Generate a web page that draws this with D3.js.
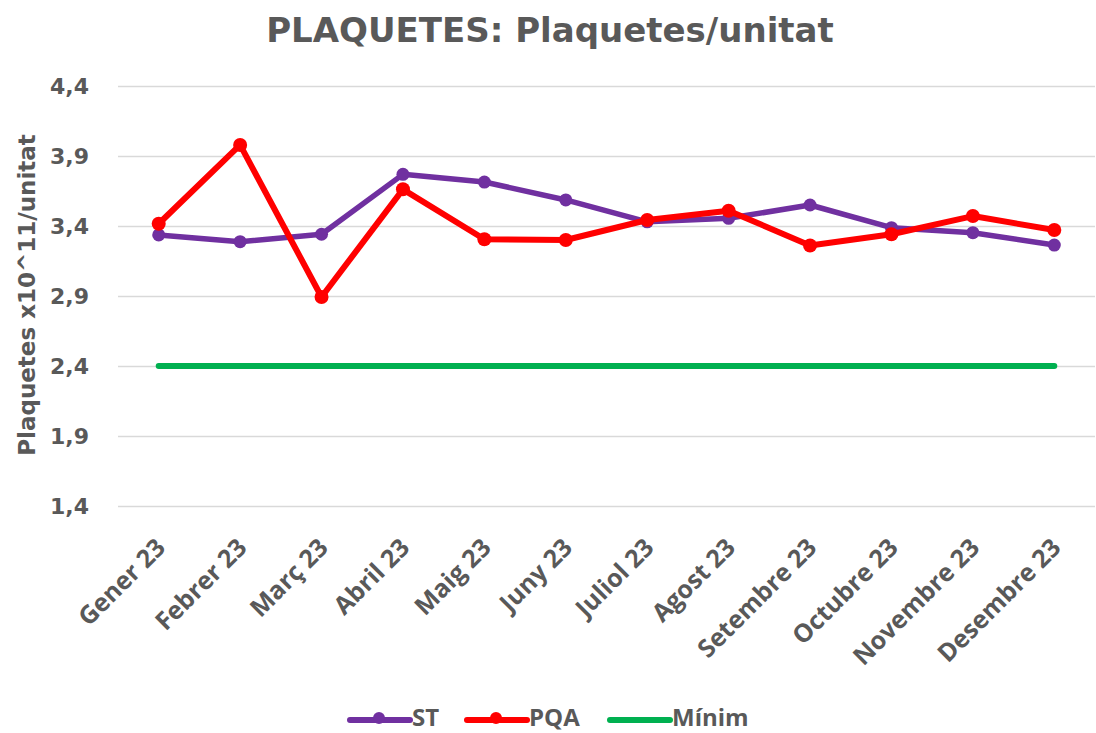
<!DOCTYPE html>
<html>
<head>
<meta charset="utf-8">
<script src="https://cdn.jsdelivr.net/npm/d3@7"></script>
<style>
  html, body { margin: 0; padding: 0; background: #ffffff; }
  svg { display: block; }
</style>
</head>
<body>
<svg id="chart" width="1096" height="733"></svg>
<script>
const months = ["Gener 23","Febrer 23","Març 23","Abril 23","Maig 23","Juny 23","Juliol 23","Agost 23","Setembre 23","Octubre 23","Novembre 23","Desembre 23"];
const stValues  = [3.336, 3.288, 3.341, 3.769, 3.714, 3.586, 3.43, 3.455, 3.55, 3.388, 3.352, 3.264];
const pqaValues = [3.416, 3.979, 2.893, 3.662, 3.305, 3.30, 3.443, 3.509, 3.261, 3.341, 3.471, 3.371];
const minimValues = [2.4, 2.4, 2.4, 2.4, 2.4, 2.4, 2.4, 2.4, 2.4, 2.4, 2.4, 2.4];
const yTicks = [1.4, 1.9, 2.4, 2.9, 3.4, 3.9, 4.4];
const seriesNames = ["ST", "PQA", "Mínim"];
const titleText = "PLAQUETES: Plaquetes/unitat";
const yTitleText = "Plaquetes x10^11/unitat";

const colors = { ST: "#7030A0", PQA: "#FF0000", "Mínim": "#00B050" };
const textColor = "#595959";
const verdana = "'DejaVu Sans', Verdana, sans-serif";
const calibri = "'Open Sans', 'Noto Sans', sans-serif";

const svg = d3.select("#chart");

const x = d3.scaleBand().domain(months).range([118, 1095]).padding(0);
const cx = d => x(d) + x.bandwidth() / 2;
const y = d3.scaleLinear().domain([1.4, 4.4]).range([506, 86]);

// Title
svg.append("text")
  .attr("x", 550).attr("y", 42)
  .attr("text-anchor", "middle")
  .attr("font-family", verdana).attr("font-weight", "bold")
  .attr("font-size", 34).attr("fill", textColor)
  .text(titleText);

// Gridlines + y ticks
const yAxis = d3.axisLeft(y).tickValues(yTicks)
  .tickSize(-(1095 - 118))
  .tickPadding(29)
  .tickFormat(d => d3.format(".1f")(d).replace(".", ","));
const gy = svg.append("g").attr("transform", "translate(118,0)").call(yAxis);
gy.select(".domain").remove();
gy.selectAll(".tick line").attr("stroke", "#d9d9d9").attr("stroke-width", 1.5);
gy.selectAll(".tick text")
  .attr("font-family", verdana).attr("font-weight", "bold")
  .attr("font-size", 22).attr("fill", textColor);

// Y title
svg.append("text")
  .attr("transform", "translate(35,295) rotate(-90)")
  .attr("text-anchor", "middle")
  .attr("font-family", verdana).attr("font-weight", "bold")
  .attr("font-size", 23).attr("fill", textColor)
  .text(yTitleText);

// X labels
const xAxis = d3.axisBottom(x).tickSize(0).tickPadding(0);
const gx = svg.append("g").attr("transform", "translate(0,506)").call(xAxis);
gx.select(".domain").remove();
gx.selectAll(".tick text")
  .attr("font-family", calibri).attr("font-weight", "bold")
  .attr("font-size", 25).attr("fill", textColor)
  .attr("text-anchor", "end")
  .attr("dy", "0.35em")
  .attr("transform", "translate(2,37) rotate(-45)");

// Lines
const line = d3.line().x((d, i) => cx(months[i])).y(d => y(d));

svg.append("path").datum(minimValues)
  .attr("d", line).attr("fill", "none")
  .attr("stroke", colors["Mínim"]).attr("stroke-width", 6).attr("stroke-linecap", "round");

svg.append("path").datum(stValues)
  .attr("d", line).attr("fill", "none")
  .attr("stroke", colors.ST).attr("stroke-width", 5.5).attr("stroke-linejoin", "round").attr("stroke-linecap", "round");
svg.append("g").selectAll("circle").data(stValues).join("circle")
  .attr("cx", (d, i) => cx(months[i])).attr("cy", d => y(d)).attr("r", 6.5)
  .attr("fill", colors.ST);

svg.append("path").datum(pqaValues)
  .attr("d", line).attr("fill", "none")
  .attr("stroke", colors.PQA).attr("stroke-width", 6).attr("stroke-linejoin", "round").attr("stroke-linecap", "round");
svg.append("g").selectAll("circle").data(pqaValues).join("circle")
  .attr("cx", (d, i) => cx(months[i])).attr("cy", d => y(d)).attr("r", 7)
  .attr("fill", colors.PQA);

// Legend
const legendItems = [
  { name: seriesNames[0], x0: 350, marker: true },
  { name: seriesNames[1], x0: 467, marker: true },
  { name: seriesNames[2], x0: 610, marker: false }
];
const lg = svg.append("g");
legendItems.forEach(it => {
  const c = colors[it.name];
  lg.append("line").attr("x1", it.x0).attr("x2", it.x0 + 60)
    .attr("y1", 720).attr("y2", 720)
    .attr("stroke", c).attr("stroke-width", 6).attr("stroke-linecap", "round");
  if (it.marker) {
    lg.append("circle").attr("cx", it.x0 + 29).attr("cy", 718).attr("r", 6).attr("fill", c);
  }
  lg.append("text").attr("x", it.x0 + 62).attr("y", 726)
    .attr("font-family", calibri).attr("font-weight", "bold")
    .attr("font-size", 24).attr("fill", textColor)
    .text(it.name);
});
</script>
</body>
</html>
